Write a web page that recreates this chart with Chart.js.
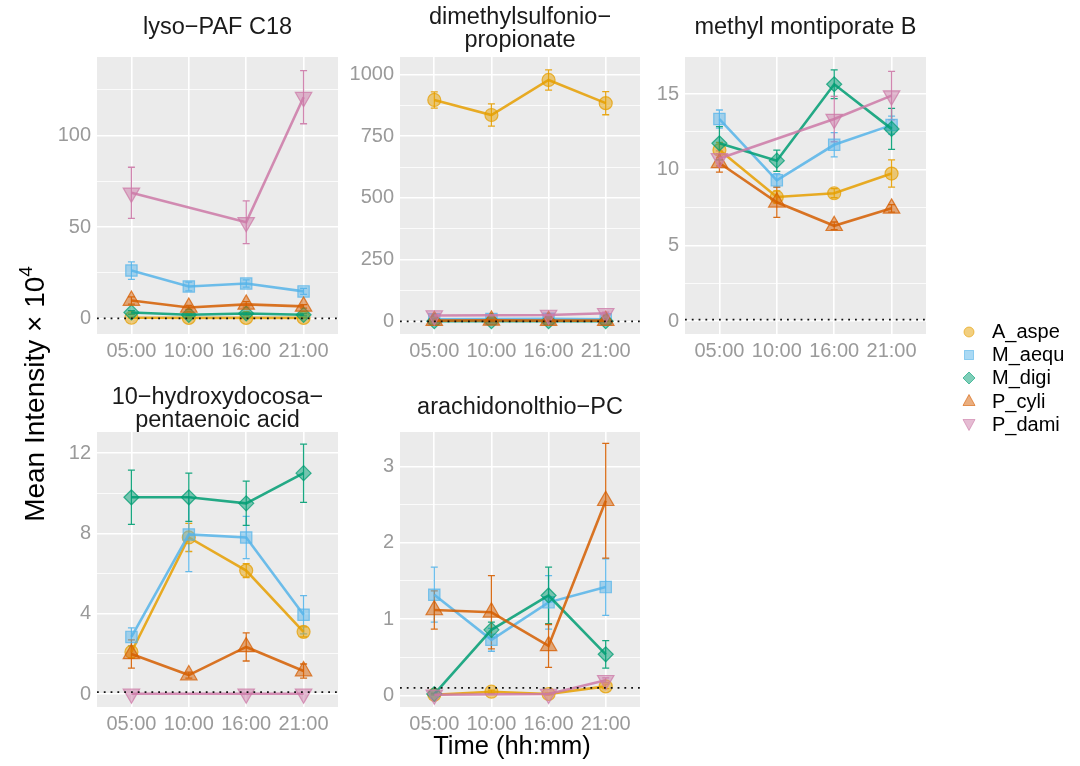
<!DOCTYPE html>
<html>
<head>
<meta charset="utf-8">
<script src="https://cdn.jsdelivr.net/npm/chart.js@4.4.0/dist/chart.umd.min.js"></script>
<style>
  body { margin: 0; background: #fff; font-family: 'Liberation Sans', Arial, sans-serif; }
  #wrap { position: relative; width: 1080px; height: 766px; overflow: hidden; }
  #wrap canvas { position: absolute; left: 0; top: 0; }
  .strip { position: absolute; text-align: center; font-size: 23.5px; line-height: 23px; color: #1a1a1a; white-space: nowrap; }
  #ytitle { position: absolute; left: -165px; top: 377px; width: 400px; height: 34px; line-height: 34px;
            text-align: center; font-size: 28px; color: #000; transform: rotate(-90deg); }
  #ytitle sup { font-size: 19px; vertical-align: 12px; line-height: 0; }
  #xtitle { position: absolute; left: 312px; top: 731px; width: 400px; text-align: center;
            font-size: 25.5px; line-height: 28px; color: #000; }
  #legend { position: absolute; left: 958px; top: 320px; }
  .key { display: flex; align-items: center; height: 23.2px; font-size: 20px; color: #000; }
  .key svg { width: 22px; height: 22px; margin-right: 12px; }
</style>
</head>
<body>
<div id="wrap">
  <canvas id="c0" width="1080" height="766"></canvas>
  <canvas id="c1" width="1080" height="766"></canvas>
  <canvas id="c2" width="1080" height="766"></canvas>
  <canvas id="c3" width="1080" height="766"></canvas>
  <canvas id="c4" width="1080" height="766"></canvas>
  <div id="ytitle">Mean Intensity × 10<sup>4</sup></div>
  <div id="xtitle">Time (hh:mm)</div>
  <div id="legend"></div>
</div>
<script>
const times = ['05:00', '10:00', '16:00', '21:00'];
const species = ['A_aspe', 'M_aequ', 'M_digi', 'P_cyli', 'P_dami'];
const speciesColors = ['#E69F00', '#56B4E9', '#009E73', '#D55E00', '#CC79A7'];
const detectionLimit = 0.1;

// means and standard errors, one row per species (P_dami not sampled at 10:00)
const lysoMean = [
  [0.4, 0.3, 0.3, 0.3],
  [26.2, 17.5, 19.1, 14.8],
  [3.3, 2.0, 2.7, 2.0],
  [9.8, 6.0, 7.7, 6.6],
  [68.7, null, 52.6, 121.0]
];
const lysoSE = [
  [0.2, 0.1, 0.1, 0.1],
  [4.8, 2.4, 2.0, 1.6],
  [1.0, 0.6, 0.8, 0.6],
  [2.0, 1.2, 1.5, 1.0],
  [14.0, null, 11.7, 14.5]
];
const lysoTicks = [0, 50, 100];

const dmspMean = [
  [897, 836, 978, 884],
  [9, 10, 11, 9],
  [1, 1, 1, 1],
  [3, 4, 3, 3],
  [24, null, 26, 33]
];
const dmspSE = [
  [33, 45, 41, 47],
  [2, 2, 2, 2],
  [0.5, 0.5, 0.5, 0.5],
  [1, 1, 1, 1],
  [4, null, 4, 5]
];
const dmspTicks = [0, 250, 500, 750, 1000];

const montiMean = [
  [11.3, 8.2, 8.45, 9.75],
  [13.35, 9.3, 11.65, 12.95],
  [11.75, 10.6, 15.65, 12.7],
  [10.45, 7.85, 6.3, 7.45],
  [10.75, null, 13.35, 14.9]
];
const montiSE = [
  [0.5, 0.4, 0.3, 0.9],
  [0.6, 0.45, 0.8, 0.6],
  [1.1, 0.7, 0.95, 1.35],
  [0.6, 1.0, 0.25, 0.25],
  [0.5, null, 1.5, 1.6]
];
const montiTicks = [0, 5, 10, 15];

const hdpaMean = [
  [2.1, 7.8, 6.15, 3.1],
  [2.85, 7.95, 7.8, 3.95],
  [9.8, 9.8, 9.5, 11.0],
  [2.0, 0.95, 2.35, 1.15],
  [0.02, null, 0.02, 0.02]
];
const hdpaSE = [
  [0.3, 0.7, 0.35, 0.25],
  [0.45, 1.85, 1.05, 0.95],
  [1.35, 1.2, 1.1, 1.45],
  [0.7, 0.15, 0.7, 0.35],
  [0, null, 0, 0]
];
const hdpaTicks = [0, 4, 8, 12];

const atpcMean = [
  [0.01, 0.05, 0.02, 0.12],
  [1.32, 0.73, 1.22, 1.42],
  [0.02, 0.86, 1.31, 0.54],
  [1.12, 1.09, 0.65, 2.55],
  [0.01, null, 0.02, 0.2]
];
const atpcSE = [
  [0, 0.02, 0.01, 0.03],
  [0.36, 0.15, 0.35, 0.37],
  [0.01, 0.1, 0.37, 0.18],
  [0.25, 0.48, 0.28, 0.75],
  [0, null, 0, 0.03]
];
const atpcTicks = [0, 1, 2, 3];

// facet layout: plot box in page pixels, y range, strip title
const panels = [
  { title: ['lyso−PAF C18'], mean: lysoMean, se: lysoSE, ticks: lysoTicks,
    yMin: -8.5, yMax: 143, box: [97, 57, 338, 334], titleTop: 15 },
  { title: ['dimethylsulfonio−', 'propionate'], mean: dmspMean, se: dmspSE, ticks: dmspTicks,
    yMin: -51, yMax: 1071, box: [400, 57, 640, 334], titleTop: 5 },
  { title: ['methyl montiporate B'], mean: montiMean, se: montiSE, ticks: montiTicks,
    yMin: -0.85, yMax: 17.45, box: [685, 57, 926, 334], titleTop: 15 },
  { title: ['10−hydroxydocosa−', 'pentaenoic acid'], mean: hdpaMean, se: hdpaSE, ticks: hdpaTicks,
    yMin: -0.64, yMax: 13.05, box: [97, 432, 338, 707], titleTop: 385 },
  { title: ['arachidonolthio−PC'], mean: atpcMean, se: atpcSE, ticks: atpcTicks,
    yMin: -0.15, yMax: 3.45, box: [400, 432, 640, 707], titleTop: 395 }
];

const markers = [
  { style: 'circle', radius: 6.5, rotation: 0 },
  { style: 'rect', radius: 8, rotation: 0 },
  { style: 'rectRot', radius: 7.5, rotation: 0 },
  { style: 'triangle', radius: 9.5, rotation: 0 },
  { style: 'triangle', radius: 9.5, rotation: 180 }
];

function rgba(hex, a) {
  const n = parseInt(hex.slice(1), 16);
  return `rgba(${n >> 16},${(n >> 8) & 255},${n & 255},${a})`;
}

const panelBg = {
  id: 'panelBg',
  beforeDraw(chart) {
    const { ctx, chartArea: a } = chart;
    ctx.save();
    ctx.fillStyle = '#EBEBEB';
    ctx.fillRect(a.left, a.top, a.width, a.height);
    ctx.restore();
  }
};

const errorBars = {
  id: 'errorBars',
  beforeDatasetsDraw(chart) {
    const { ctx, scales: { x, y } } = chart;
    ctx.save();
    ctx.lineWidth = 1.3;
    chart.data.datasets.forEach(ds => {
      ctx.strokeStyle = ds.errColor;
      ds.data.forEach(p => {
        if (p.y == null || !p.se) return;
        const px = x.getPixelForValue(p.x);
        const top = y.getPixelForValue(p.y + p.se);
        const bot = y.getPixelForValue(p.y - p.se);
        ctx.beginPath();
        ctx.moveTo(px, top); ctx.lineTo(px, bot);
        ctx.moveTo(px - 3.5, top); ctx.lineTo(px + 3.5, top);
        ctx.moveTo(px - 3.5, bot); ctx.lineTo(px + 3.5, bot);
        ctx.stroke();
      });
    });
    ctx.restore();
  }
};

const limitLine = {
  id: 'limitLine',
  afterDatasetsDraw(chart) {
    const { ctx, chartArea: a, scales: { y } } = chart;
    const py = y.getPixelForValue(detectionLimit);
    ctx.save();
    ctx.strokeStyle = '#111';
    ctx.lineWidth = 1.8;
    ctx.setLineDash([1.8, 5]);
    ctx.beginPath();
    ctx.moveTo(a.left, py);
    ctx.lineTo(a.right, py);
    ctx.stroke();
    ctx.restore();
  }
};

const Y_AXIS_W = 60;
const X_AXIS_H = 30;
const tickFont = { family: "'Liberation Sans', Arial, sans-serif", size: 20 };

panels.forEach((p, k) => {
  const [left, top, right, bottom] = p.box;
  const step = p.ticks[1] - p.ticks[0];
  const minor = [];
  for (let v = p.ticks[0] - step / 2; v <= p.yMax; v += step) {
    if (v >= p.yMin) minor.push(v);
  }
  const gridValues = p.ticks.concat(minor);

  const datasets = species.map((name, i) => ({
    label: name,
    data: p.mean[i].map((m, j) => ({ x: j, y: m, se: p.se[i][j] })),
    borderColor: rgba(speciesColors[i], 0.85),
    backgroundColor: rgba(speciesColors[i], 0.5),
    errColor: rgba(speciesColors[i], 0.9),
    borderWidth: 2.6,
    pointStyle: markers[i].style,
    pointRadius: markers[i].radius,
    pointRotation: markers[i].rotation,
    pointBorderWidth: 1.2,
    pointBorderColor: rgba(speciesColors[i], 0.75),
    pointBackgroundColor: rgba(speciesColors[i], 0.5),
    spanGaps: true,
    tension: 0,
    order: species.length - i
  }));

  new Chart(document.getElementById('c' + k), {
    type: 'line',
    data: { datasets },
    options: {
      responsive: false,
      animation: false,
      events: [],
      layout: {
        padding: { left: left - Y_AXIS_W, top: top, right: 1080 - right, bottom: 766 - bottom - X_AXIS_H }
      },
      plugins: { legend: { display: false }, tooltip: { enabled: false } },
      scales: {
        x: {
          type: 'linear',
          min: -0.6,
          max: 3.6,
          afterBuildTicks: s => { s.ticks = times.map((t, j) => ({ value: j })); },
          afterFit: s => { s.height = X_AXIS_H; },
          ticks: { autoSkip: false, maxRotation: 0, padding: 5, color: '#9a9a9a', font: tickFont,
                   callback: v => times[v] },
          grid: { color: '#ffffff', lineWidth: 1.6, drawTicks: false },
          border: { display: false }
        },
        y: {
          min: p.yMin,
          max: p.yMax,
          afterBuildTicks: s => { s.ticks = gridValues.map(v => ({ value: v })); },
          afterFit: s => { s.width = Y_AXIS_W; },
          ticks: { autoSkip: false, padding: 6, color: '#9a9a9a', font: tickFont,
                   callback: v => (p.ticks.includes(v) ? String(v) : '') },
          grid: { color: '#ffffff', drawTicks: false,
                  lineWidth: c => (p.ticks.includes(c.tick.value) ? 1.6 : 0.8) },
          border: { display: false }
        }
      }
    },
    plugins: [panelBg, errorBars, limitLine]
  });

  const strip = document.createElement('div');
  strip.className = 'strip';
  strip.style.left = left + 'px';
  strip.style.width = (right - left) + 'px';
  strip.style.top = p.titleTop + 'px';
  strip.innerHTML = p.title.join('<br>');
  document.getElementById('wrap').appendChild(strip);
});

// legend keys
const keyShapes = [
  c => `<circle cx="11" cy="11" r="5" fill="${rgba(c, 0.5)}" stroke="${rgba(c, 0.6)}"/>`,
  c => `<rect x="6.5" y="6.5" width="9" height="9" fill="${rgba(c, 0.5)}" stroke="${rgba(c, 0.6)}"/>`,
  c => `<polygon points="11,5 17,11 11,17 5,11" fill="${rgba(c, 0.5)}" stroke="${rgba(c, 0.6)}"/>`,
  c => `<polygon points="11,4.5 17,15.5 5,15.5" fill="${rgba(c, 0.5)}" stroke="${rgba(c, 0.6)}"/>`,
  c => `<polygon points="11,17.5 17,6.5 5,6.5" fill="${rgba(c, 0.5)}" stroke="${rgba(c, 0.6)}"/>`
];
const legend = document.getElementById('legend');
species.forEach((name, i) => {
  const row = document.createElement('div');
  row.className = 'key';
  row.innerHTML = `<svg viewBox="0 0 22 22">${keyShapes[i](speciesColors[i])}</svg><span>${name}</span>`;
  legend.appendChild(row);
});
</script>
</body>
</html>
